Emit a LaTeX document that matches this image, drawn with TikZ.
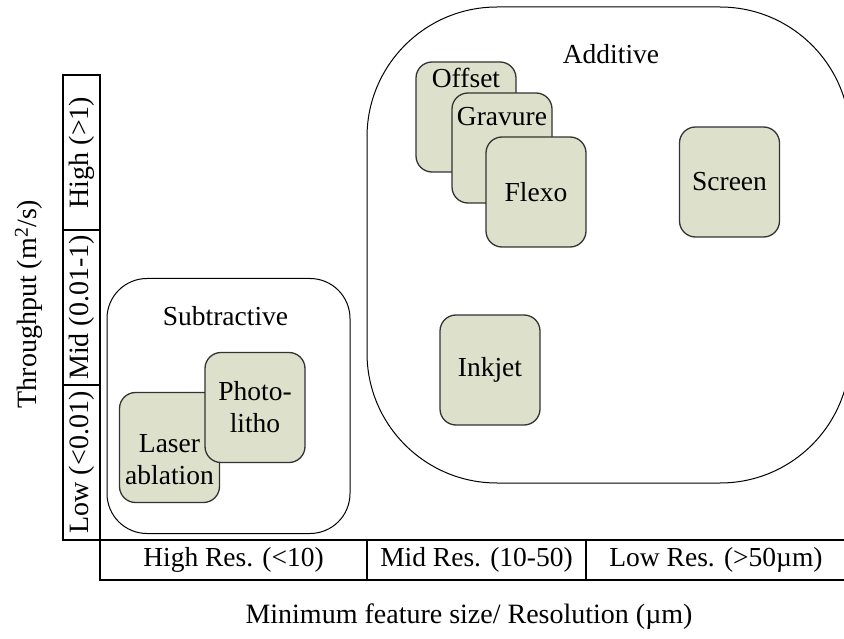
\documentclass[tikz,border=0pt]{standalone}
\usepackage{fontspec}
\setmainfont{Liberation Serif}
\usetikzlibrary{positioning}
\definecolor{procfill}{RGB}{221,224,202}
\begin{document}
\begin{tikzpicture}[x=1pt, y=-1pt, font=\fontsize{27.5}{32}\selectfont,
  proc/.style={draw=black!80, line width=1.3pt, fill=procfill, rounded corners=16pt, minimum width=100pt, minimum height=110pt, inner sep=0pt, align=center},
  group/.style={draw, line width=1pt, inner sep=0pt},
  cell/.style={draw, line width=1.2pt, inner sep=0pt, minimum height=40pt},
  ycell/.style={cell, rotate=90, minimum width=155pt, minimum height=37pt, font=\fontsize{28}{30}\selectfont},
  axtitle/.style={font=\fontsize{28}{32}\selectfont}]
            \useasboundingbox (0,0) rectangle (844,639);

            % --- AXES (table cells) ---
            \node[ycell] (yhigh) at (81.5,152.5) {High (>1)};
            \node[ycell] (ymid) at (81.5,307.5) {Mid (0.01-1)};
            \node[ycell] (ylow) at (81.5,462.5) {Low (<0.01)};

            \node[cell, minimum width=267pt] (xhigh) at (233.5,560) {High Res. (<10)};
            \node[cell, minimum width=219pt] (xmid) at (476.5,560) {Mid Res. (10-50)};
            \node[cell, minimum width=260pt] (xlow) at (716,560) {Low Res. (>50µm)};

            \node[axtitle, rotate=90] (ytitle) at (29,304) {Throughput (m\textsuperscript{2}/s)};
            \node[axtitle] (xtitle) at (469,617) {Minimum feature size/ Resolution (µm)};

            % --- SUBTRACTIVE ---
            \node[group, rounded corners=40pt, minimum width=243pt, minimum height=255pt] (sub) at (228.5,406) {};
            \node (subtitle) at (225.5,316) {Subtractive};
            \node[proc, label={[align=center, anchor=south, yshift=15pt]south:Laser\\ablation}] (laser) at (169.5,447.5) {};
            \node[proc] (photo) at (255,407.5) {Photo-\\litho};

            % --- ADDITIVE ---
            \node[group, rounded corners=130pt, minimum width=483pt, minimum height=476pt] (add) at (608.5,245) {};
            \node (addtitle) at (611,54) {Additive};
            \node[proc, label={[anchor=north, yshift=-3pt]north:Offset}] (offset) at (466,117) {};
            \node[proc, label={[anchor=north, yshift=-11pt]north:Gravure}] (gravure) at (502,148) {};
            \node[proc] (flexo) at (536,192) {Flexo};
            \node[proc] (screen) at (729.5,182) {Screen};
            \node[proc] (inkjet) at (490,370) {Inkjet};

        \end{tikzpicture}
\end{document}
